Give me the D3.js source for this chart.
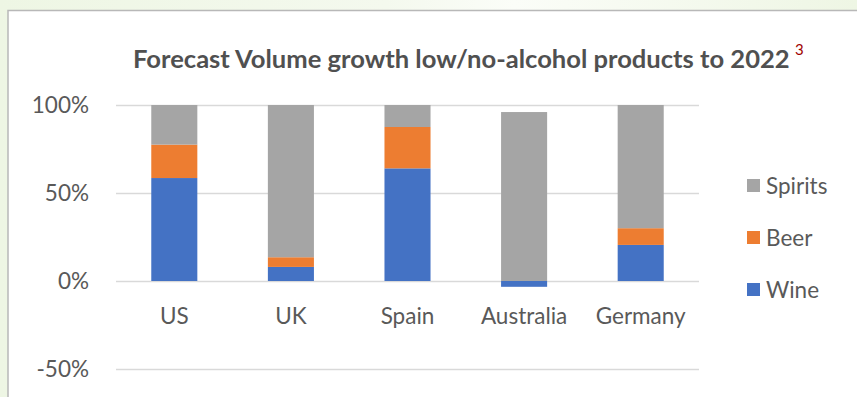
<!DOCTYPE html>
<html>
<head>
<meta charset="utf-8">
<script src="https://cdn.jsdelivr.net/npm/d3@7"></script>
<style>
  html, body { margin: 0; padding: 0; background: #ffffff; }
  svg { display: block; }
  text { font-family: Lato, "Open Sans", sans-serif; }
</style>
</head>
<body>
<svg id="chart" width="857" height="397"></svg>
<script>
// ---- data ----
const categories = ["US", "UK", "Spain", "Australia", "Germany"];
const wine    = [0.585, 0.08, 0.64, -0.033, 0.205];
const beer    = [0.19, 0.055, 0.235, 0.0, 0.095];
const spirits = [0.225, 0.865, 0.125, 0.96, 0.70];
const seriesNames = ["Wine", "Beer", "Spirits"];
const seriesColors = ["#4472C4", "#ED7D31", "#A5A5A5"];
const yTicks = [-0.5, 0, 0.5, 1];
const titleText = "Forecast Volume growth low/no-alcohol products to 2022";
const footnote = "3";

const svg = d3.select("#chart");
const W = 857, H = 397;

// background frame
const defs = svg.append("defs");
const g1 = defs.append("linearGradient").attr("id", "bg").attr("x1", 0).attr("x2", 1).attr("y1", 0).attr("y2", 0);
g1.append("stop").attr("offset", "0%").attr("stop-color", "#eef6e4");
g1.append("stop").attr("offset", "45%").attr("stop-color", "#f4f9ee");
g1.append("stop").attr("offset", "60%").attr("stop-color", "#fbfdf8");
g1.append("stop").attr("offset", "100%").attr("stop-color", "#eef6e4");
svg.append("rect").attr("width", W).attr("height", H).attr("fill", "url(#bg)");
svg.append("rect").attr("x", 8).attr("y", 10.5).attr("width", W + 10).attr("height", H)
  .attr("fill", "#ffffff").attr("stroke", "#b8b8b8").attr("stroke-width", 1.5);

// scales
const x = d3.scaleBand().domain(categories).range([116, 699])
  .paddingInner(0.605).paddingOuter(0.3025);
const y = d3.scaleLinear().domain([-0.5, 1]).range([369, 105]);

// gridlines + y labels via axis
const pct = v => d3.format(".0%")(v).replace("\u2212", "-");
const yAxis = d3.axisLeft(y).tickValues(yTicks).tickFormat(pct)
  .tickSize(-(699 - 116)).tickPadding(27);
const ya = svg.append("g").attr("transform", "translate(116,0)").call(yAxis);
ya.select(".domain").remove();
ya.selectAll(".tick line").attr("stroke", "#d9d9d9").attr("stroke-width", 1.5);
ya.selectAll(".tick text").attr("fill", "#595959").style("font-size", "22.5px")
  .style("font-family", "Lato, sans-serif").attr("dy", "0.35em");

// stacked bars
const rows = categories.map((c, i) => ({ cat: c, Wine: wine[i], Beer: beer[i], Spirits: spirits[i] }));
const stack = d3.stack().keys(seriesNames).offset(d3.stackOffsetDiverging);
const stacked = stack(rows);
const color = d3.scaleOrdinal().domain(seriesNames).range(seriesColors);

svg.append("g").selectAll("g").data(stacked).join("g")
  .attr("fill", d => color(d.key))
  .selectAll("rect").data(d => d).join("rect")
  .attr("x", d => x(d.data.cat))
  .attr("width", x.bandwidth())
  .attr("y", d => y(Math.max(d[0], d[1])))
  .attr("height", d => Math.abs(y(d[0]) - y(d[1])));

// category labels via axis
const xAxis = d3.axisBottom(x).tickSize(0).tickPadding(0);
const xa = svg.append("g").attr("transform", "translate(0,324)").call(xAxis);
xa.select(".domain").remove();
xa.selectAll(".tick text").attr("fill", "#595959").style("font-size", "22.5px")
  .style("font-family", "Lato, sans-serif").attr("dy", "0").attr("y", 0);

// title
const title = svg.append("text").attr("x", 133).attr("y", 68)
  .attr("fill", "#505050").style("font-weight", "bold").style("font-size", "24px")
  .text(titleText);
const tw = title.node().getComputedTextLength();
title.style("font-size", (24 * 657 / tw).toFixed(2) + "px");
svg.append("text").attr("x", 795).attr("y", 55).attr("fill", "#A00000")
  .style("font-size", "15px").text(footnote);

// legend
const legendOrder = ["Spirits", "Beer", "Wine"];
const lg = svg.append("g").selectAll("g").data(legendOrder).join("g")
  .attr("transform", (d, i) => `translate(747,${185.5 + i * 52})`);
lg.append("rect").attr("x", 0).attr("y", -6.5).attr("width", 13).attr("height", 13)
  .attr("fill", d => color(d));
lg.append("text").attr("x", 19).attr("y", 0).attr("dy", "0.36em")
  .attr("fill", "#595959").style("font-size", "22.5px").text(d => d);
</script>
</body>
</html>
